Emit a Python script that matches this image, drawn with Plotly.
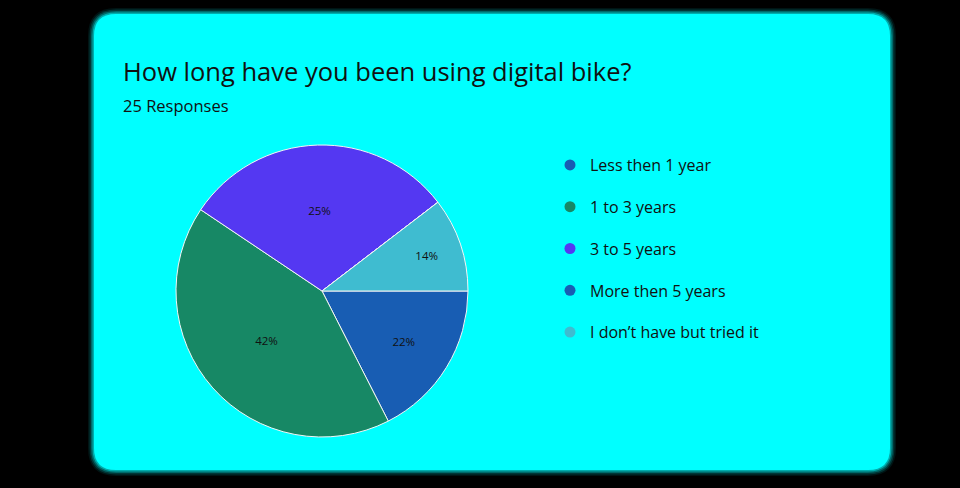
import plotly.graph_objects as go

# survey answers (legend order)
categories = ['Less then 1 year', '1 to 3 years', '3 to 5 years',
              'More then 5 years', 'I don\u2019t have but tried it']
# slice sizes as drawn (share of the circle, %)
slice_sizes = [17.5, 41.9, 30.2, 0, 10.4]
# percentages printed on the slices
slice_labels = ['22%', '42%', '25%', '', '14%']
colors = ['#185db3', '#178865', '#5438f2', '#185db3', '#3fbcd0']

title_text = 'How long have you been using digital bike?'
subtitle_text = '25 Responses'

W, H = 960, 488
FONT = 'Open Sans'


def rounded_rect(x0, y0, x1, y1, r):
    """SVG path for a rounded rectangle in axis units (y grows downward)."""
    return (f'M {x0 + r},{y0} L {x1 - r},{y0} Q {x1},{y0} {x1},{y0 + r} '
            f'L {x1},{y1 - r} Q {x1},{y1} {x1 - r},{y1} '
            f'L {x0 + r},{y1} Q {x0},{y1} {x0},{y1 - r} '
            f'L {x0},{y0 + r} Q {x0},{y0} {x0 + r},{y0} Z')


fig = go.Figure()

fig.add_trace(go.Pie(
    labels=categories,
    values=slice_sizes,
    text=slice_labels,
    textinfo='text',
    textposition='inside',
    insidetextorientation='horizontal',
    textfont=dict(family=FONT, size=11.5, color='#111111'),
    marker=dict(colors=colors, line=dict(color='#f4f4f4', width=1)),
    sort=False,
    direction='clockwise',
    rotation=90,
    showlegend=False,
    hoverinfo='label+text',
    domain=dict(x=[176 / W, 468 / W], y=[1 - 437 / H, 1 - 145 / H]),
))

# legend entries with round markers
for i, (name, col) in enumerate(zip(categories, colors)):
    fig.add_trace(go.Scatter(
        x=[None], y=[None], mode='markers', name=name,
        legendgroup=str(i),
        marker=dict(color=col, size=11, symbol='circle'),
    ))

# card with soft edge
shapes = []
for grow, op in [(6, 0.08), (4.5, 0.15), (3, 0.25), (1.5, 0.45)]:
    shapes.append(dict(type='path', xref='x', yref='y', layer='below',
                       path=rounded_rect(94 - grow, 14 - grow, 890 + grow, 470 + grow, 22 + grow),
                       fillcolor=f'rgba(0,255,255,{op})', line=dict(width=0)))
shapes.append(dict(type='path', xref='x', yref='y', layer='below',
                   path=rounded_rect(94, 14, 890, 470, 22),
                   fillcolor='#00ffff', line=dict(width=0)))

fig.update_layout(
    width=W, height=H,
    margin=dict(l=0, r=0, t=0, b=0),
    paper_bgcolor='#000000',
    plot_bgcolor='rgba(0,0,0,0)',
    font=dict(family=FONT, color='#111111'),
    xaxis=dict(range=[0, W], visible=False, fixedrange=True),
    yaxis=dict(range=[H, 0], visible=False, fixedrange=True),
    shapes=shapes,
    showlegend=True,
    legend=dict(x=550 / W, y=1 - 148 / H, xanchor='left', yanchor='top',
                bgcolor='rgba(0,0,0,0)', font=dict(family=FONT, size=16, color='#111111'),
                tracegroupgap=18, itemwidth=30),
    annotations=[
        dict(text=title_text, x=121 / W, y=1 - 71 / H, xref='paper', yref='paper',
             xanchor='left', yanchor='middle', showarrow=False,
             font=dict(family=FONT, size=25.5, color='#111111')),
        dict(text=subtitle_text, x=121 / W, y=1 - 106 / H, xref='paper', yref='paper',
             xanchor='left', yanchor='middle', showarrow=False,
             font=dict(family=FONT, size=16.5, color='#111111')),
    ],
)

# drop the browser's default page margin so the figure sits at 0,0
fig.write_html('out.html', config={'displayModeBar': False},
               post_script="document.body.style.margin='0';document.body.style.background='#000';")
